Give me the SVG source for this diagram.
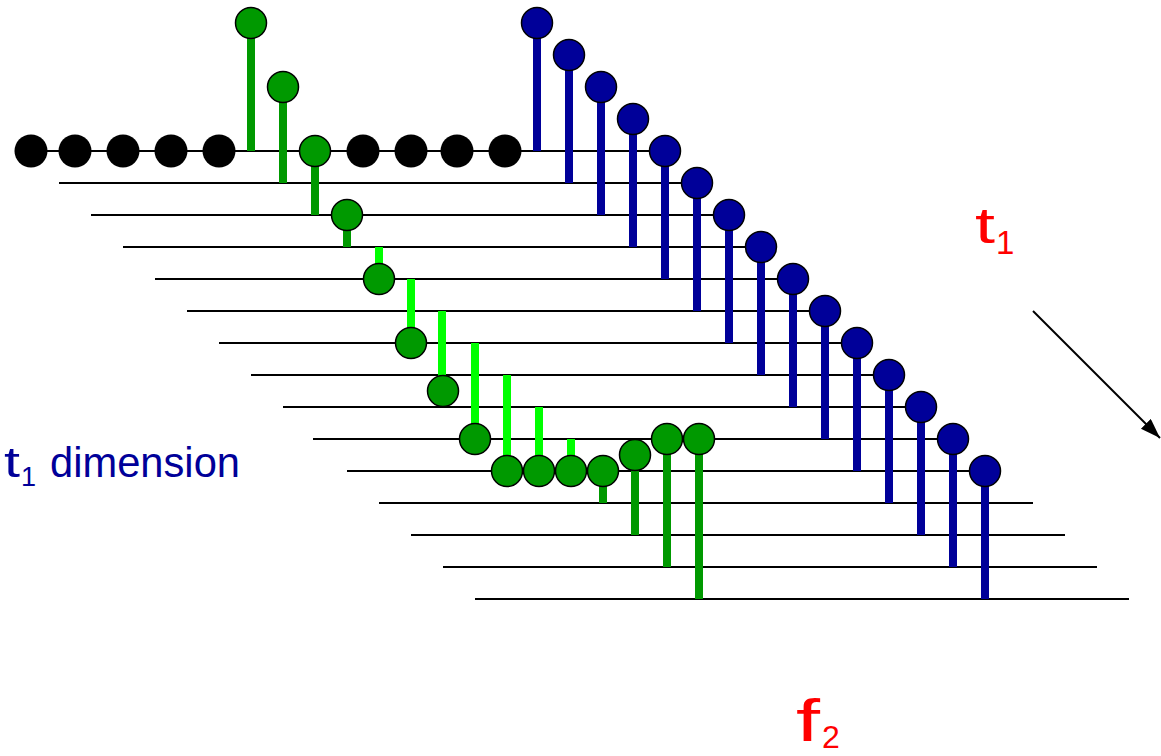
<svg xmlns="http://www.w3.org/2000/svg" width="1161" height="756" viewBox="0 0 1161 756">
<style>
.row{stroke:#000;stroke-width:2}
.bs{stroke:#000099;stroke-width:8}
.gs{stroke:#009900;stroke-width:8}
.ls{stroke:#00ff00;stroke-width:8}
.bd{fill:#000099;stroke:#000;stroke-width:1.5}
.gd{fill:#009900;stroke:#000;stroke-width:1.5}
.kd{fill:#000}
.lbl{font-family:"Comic Sans MS","Liberation Sans",sans-serif}
</style>
<defs>
<marker id="ah" markerUnits="userSpaceOnUse" markerWidth="22" markerHeight="16" refX="20" refY="7" orient="auto">
<path d="M0,0 L20,7 L0,14 Z" fill="#000"/>
</marker>
</defs>
<rect width="1161" height="756" fill="#fff"/>
<g id="connectors">
<g id="rows">
<line class="row" x1="30" y1="151" x2="681" y2="151"/>
<line class="row" x1="59" y1="183" x2="713" y2="183"/>
<line class="row" x1="91" y1="215" x2="745" y2="215"/>
<line class="row" x1="123" y1="247" x2="777" y2="247"/>
<line class="row" x1="155" y1="279" x2="809" y2="279"/>
<line class="row" x1="187" y1="311" x2="841" y2="311"/>
<line class="row" x1="219" y1="343" x2="873" y2="343"/>
<line class="row" x1="251" y1="375" x2="905" y2="375"/>
<line class="row" x1="283" y1="407" x2="937" y2="407"/>
<line class="row" x1="313" y1="439" x2="969" y2="439"/>
<line class="row" x1="347" y1="471" x2="1001" y2="471"/>
<line class="row" x1="379" y1="503" x2="1033" y2="503"/>
<line class="row" x1="411" y1="535" x2="1065" y2="535"/>
<line class="row" x1="443" y1="567" x2="1097" y2="567"/>
<line class="row" x1="475" y1="599" x2="1129" y2="599"/>
</g>
<g id="blue-stems">
<line class="bs" x1="537" y1="23" x2="537" y2="151"/>
<line class="bs" x1="569" y1="55" x2="569" y2="183"/>
<line class="bs" x1="601" y1="87" x2="601" y2="215"/>
<line class="bs" x1="633" y1="119" x2="633" y2="247"/>
<line class="bs" x1="665" y1="151" x2="665" y2="279"/>
<line class="bs" x1="697" y1="183" x2="697" y2="311"/>
<line class="bs" x1="729" y1="215" x2="729" y2="343"/>
<line class="bs" x1="761" y1="247" x2="761" y2="375"/>
<line class="bs" x1="793" y1="279" x2="793" y2="407"/>
<line class="bs" x1="825" y1="311" x2="825" y2="439"/>
<line class="bs" x1="857" y1="343" x2="857" y2="471"/>
<line class="bs" x1="889" y1="375" x2="889" y2="503"/>
<line class="bs" x1="921" y1="407" x2="921" y2="535"/>
<line class="bs" x1="953" y1="439" x2="953" y2="567"/>
<line class="bs" x1="985" y1="471" x2="985" y2="599"/>
</g>
<g id="green-stems">
<line class="gs" x1="251" y1="23" x2="251" y2="151"/>
<line class="gs" x1="283" y1="87" x2="283" y2="183"/>
<line class="gs" x1="315" y1="151" x2="315" y2="215"/>
<line class="gs" x1="347" y1="215" x2="347" y2="247"/>
<line class="ls" x1="379" y1="247" x2="379" y2="279"/>
<line class="ls" x1="411" y1="279" x2="411" y2="343"/>
<line class="ls" x1="442" y1="311" x2="442" y2="391"/>
<line class="ls" x1="475" y1="343" x2="475" y2="439"/>
<line class="ls" x1="507" y1="375" x2="507" y2="471"/>
<line class="ls" x1="539" y1="407" x2="539" y2="471"/>
<line class="ls" x1="571" y1="439" x2="571" y2="471"/>
<line class="gs" x1="603" y1="471" x2="603" y2="503"/>
<line class="gs" x1="635" y1="455" x2="635" y2="535"/>
<line class="gs" x1="667" y1="439" x2="667" y2="567"/>
<line class="gs" x1="699" y1="439" x2="699" y2="599"/>
</g>
<line id="arrow" x1="1033" y1="311" x2="1160" y2="438" stroke="#000" stroke-width="2" marker-end="url(#ah)"/>
</g>
<g id="black-dots">
<circle class="kd" cx="31" cy="151" r="16.5"/>
<circle class="kd" cx="75" cy="151" r="16.5"/>
<circle class="kd" cx="123" cy="151" r="16.5"/>
<circle class="kd" cx="171" cy="151" r="16.5"/>
<circle class="kd" cx="219" cy="151" r="16.5"/>
<circle class="kd" cx="363" cy="151" r="16.5"/>
<circle class="kd" cx="411" cy="151" r="16.5"/>
<circle class="kd" cx="457" cy="151" r="16.5"/>
<circle class="kd" cx="505" cy="151" r="16.5"/>
</g>
<g id="blue-dots">
<circle class="bd" cx="537" cy="23" r="15.5"/>
<circle class="bd" cx="569" cy="55" r="15.5"/>
<circle class="bd" cx="601" cy="87" r="15.5"/>
<circle class="bd" cx="633" cy="119" r="15.5"/>
<circle class="bd" cx="665" cy="151" r="15.5"/>
<circle class="bd" cx="697" cy="183" r="15.5"/>
<circle class="bd" cx="729" cy="215" r="15.5"/>
<circle class="bd" cx="761" cy="247" r="15.5"/>
<circle class="bd" cx="793" cy="279" r="15.5"/>
<circle class="bd" cx="825" cy="311" r="15.5"/>
<circle class="bd" cx="857" cy="343" r="15.5"/>
<circle class="bd" cx="889" cy="375" r="15.5"/>
<circle class="bd" cx="921" cy="407" r="15.5"/>
<circle class="bd" cx="953" cy="439" r="15.5"/>
<circle class="bd" cx="985" cy="471" r="15.5"/>
</g>
<g id="green-dots">
<circle class="gd" cx="251" cy="23" r="15.5"/>
<circle class="gd" cx="283" cy="87" r="15.5"/>
<circle class="gd" cx="315" cy="151" r="15.5"/>
<circle class="gd" cx="347" cy="215" r="15.5"/>
<circle class="gd" cx="379" cy="279" r="15.5"/>
<circle class="gd" cx="411" cy="343" r="15.5"/>
<circle class="gd" cx="443" cy="391" r="15.5"/>
<circle class="gd" cx="475" cy="439" r="15.5"/>
<circle class="gd" cx="507" cy="471" r="15.5"/>
<circle class="gd" cx="539" cy="471" r="15.5"/>
<circle class="gd" cx="571" cy="471" r="15.5"/>
<circle class="gd" cx="603" cy="471" r="15.5"/>
<circle class="gd" cx="635" cy="455" r="15.5"/>
<circle class="gd" cx="667" cy="439" r="15.5"/>
<circle class="gd" cx="699" cy="439" r="15.5"/>
</g>
<g id="label-t1-dimension" class="lbl" fill="#000099">
<text x="4" y="477" font-size="42" textLength="16" lengthAdjust="spacingAndGlyphs">t</text>
<text x="21" y="486" font-size="27">1</text>
<text x="50" y="477" font-size="42" textLength="190" lengthAdjust="spacingAndGlyphs">dimension</text>
</g>
<g id="label-t1" class="lbl" fill="#ff0000">
<text x="975" y="243" font-size="50" textLength="20" lengthAdjust="spacingAndGlyphs">t</text>
<text x="996" y="254" font-size="33">1</text>
</g>
<g id="label-f2" class="lbl" fill="#ff0000">
<text x="796" y="741" font-size="60" textLength="24" lengthAdjust="spacingAndGlyphs">f</text>
<text x="822" y="748" font-size="32">2</text>
</g>
</svg>
